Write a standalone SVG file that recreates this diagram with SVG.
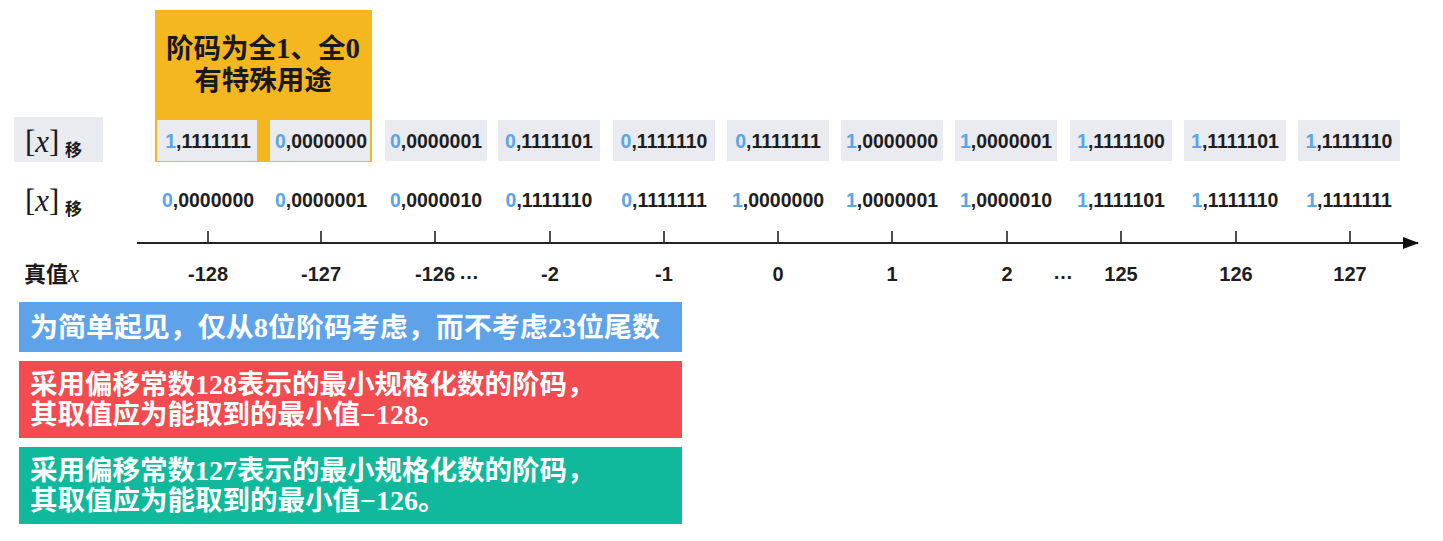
<svg xmlns="http://www.w3.org/2000/svg" width="1443" height="541" viewBox="0 0 1443 541">
<defs>
<style>
.cell{fill:#E9EBF1}
.num{font-family:"Liberation Sans",Arial,sans-serif;font-weight:bold;font-size:19.5px;fill:#1e1e1e;text-anchor:middle}
.num .b{fill:#5AA5E6}
.ax{font-family:"Liberation Sans",Arial,sans-serif;font-weight:bold;font-size:20px;fill:#1e1e1e;text-anchor:middle}
.cjk{font-family:"Noto Sans CJK SC","Noto Sans",sans-serif;font-weight:bold}
.serif{font-family:"Liberation Serif","Times New Roman",serif}
.note{font-family:"Noto Sans CJK SC",sans-serif;font-weight:bold;font-size:27.5px;fill:#fff}
.note .serif{font-size:28px;font-weight:bold}
.tick{stroke:#222;stroke-width:1.6}
</style>
<marker id="arr" markerWidth="16" markerHeight="12" refX="15" refY="6" orient="auto" markerUnits="userSpaceOnUse">
<path d="M0,0 L16,6 L0,12 Z" fill="#111"/>
</marker>
</defs>
<rect width="1443" height="541" fill="#fff"/>

<g id="special">
<rect x="155" y="10" width="217" height="152" fill="#F5B71F"/>
<text x="263" y="58" text-anchor="middle" class="cjk" font-size="27.5" fill="#1a1a1a">阶码为全<tspan class="serif" font-weight="bold" font-size="29">1</tspan>、全<tspan class="serif" font-weight="bold" font-size="29">0</tspan></text>
<text x="263" y="90" text-anchor="middle" class="cjk" font-size="27.5" fill="#1a1a1a">有特殊用途</text>
</g>

<g id="labels">
<rect x="14" y="117" width="89" height="45" fill="#E9EBF1"/>
<text x="25" y="152" class="serif" font-size="31" fill="#1a1a1a">[<tspan font-style="italic">x</tspan>]</text>
<text x="65" y="156" class="cjk" font-size="17" fill="#1a1a1a">移</text>
<text x="25" y="211" class="serif" font-size="31" fill="#1a1a1a">[<tspan font-style="italic">x</tspan>]</text>
<text x="65" y="215" class="cjk" font-size="17" fill="#1a1a1a">移</text>
<text x="24" y="282" class="cjk" font-size="22" fill="#1a1a1a">真值<tspan class="serif" font-style="italic" font-weight="normal" font-size="25">x</tspan></text>
</g>

<g id="row1">
<rect class="cell" x="157" y="120" width="100" height="41"/>
<rect class="cell" x="270" y="120" width="100" height="41"/>
<rect class="cell" x="385" y="120" width="102" height="41"/>
<rect class="cell" x="498" y="120" width="102" height="41"/>
<rect class="cell" x="613" y="120" width="102" height="41"/>
<rect class="cell" x="727" y="120" width="102" height="41"/>
<rect class="cell" x="841" y="120" width="102" height="41"/>
<rect class="cell" x="955" y="120" width="102" height="41"/>
<rect class="cell" x="1070" y="120" width="102" height="41"/>
<rect class="cell" x="1184" y="120" width="102" height="41"/>
<rect class="cell" x="1298" y="120" width="102" height="41"/>
<text class="num" x="208" y="148"><tspan class="b">1</tspan>,1111111</text>
<text class="num" x="321" y="148"><tspan class="b">0</tspan>,0000000</text>
<text class="num" x="436" y="148"><tspan class="b">0</tspan>,0000001</text>
<text class="num" x="549" y="148"><tspan class="b">0</tspan>,1111101</text>
<text class="num" x="664" y="148"><tspan class="b">0</tspan>,1111110</text>
<text class="num" x="778" y="148"><tspan class="b">0</tspan>,1111111</text>
<text class="num" x="892" y="148"><tspan class="b">1</tspan>,0000000</text>
<text class="num" x="1006" y="148"><tspan class="b">1</tspan>,0000001</text>
<text class="num" x="1121" y="148"><tspan class="b">1</tspan>,1111100</text>
<text class="num" x="1235" y="148"><tspan class="b">1</tspan>,1111101</text>
<text class="num" x="1349" y="148"><tspan class="b">1</tspan>,1111110</text>
</g>

<g id="row2">
<text class="num" x="208" y="207"><tspan class="b">0</tspan>,0000000</text>
<text class="num" x="321" y="207"><tspan class="b">0</tspan>,0000001</text>
<text class="num" x="436" y="207"><tspan class="b">0</tspan>,0000010</text>
<text class="num" x="549" y="207"><tspan class="b">0</tspan>,1111110</text>
<text class="num" x="664" y="207"><tspan class="b">0</tspan>,1111111</text>
<text class="num" x="778" y="207"><tspan class="b">1</tspan>,0000000</text>
<text class="num" x="892" y="207"><tspan class="b">1</tspan>,0000001</text>
<text class="num" x="1006" y="207"><tspan class="b">1</tspan>,0000010</text>
<text class="num" x="1121" y="207"><tspan class="b">1</tspan>,1111101</text>
<text class="num" x="1235" y="207"><tspan class="b">1</tspan>,1111110</text>
<text class="num" x="1349" y="207"><tspan class="b">1</tspan>,1111111</text>
</g>

<g id="connectors">
<line x1="137" y1="243" x2="1418" y2="243" stroke="#222" stroke-width="1.8" marker-end="url(#arr)"/>
<line class="tick" x1="208" y1="231" x2="208" y2="243"/>
<line class="tick" x1="321" y1="231" x2="321" y2="243"/>
<line class="tick" x1="435" y1="231" x2="435" y2="243"/>
<line class="tick" x1="550" y1="231" x2="550" y2="243"/>
<line class="tick" x1="664" y1="231" x2="664" y2="243"/>
<line class="tick" x1="778" y1="231" x2="778" y2="243"/>
<line class="tick" x1="892" y1="231" x2="892" y2="243"/>
<line class="tick" x1="1007" y1="231" x2="1007" y2="243"/>
<line class="tick" x1="1121" y1="231" x2="1121" y2="243"/>
<line class="tick" x1="1236" y1="231" x2="1236" y2="243"/>
<line class="tick" x1="1350" y1="231" x2="1350" y2="243"/>
</g>

<g id="axis-labels">
<text class="ax" x="208" y="281">-128</text>
<text class="ax" x="321" y="281">-127</text>
<text class="ax" x="435" y="281">-126</text>
<text class="ax" x="469" y="279" font-size="16">…</text>
<text class="ax" x="550" y="281">-2</text>
<text class="ax" x="664" y="281">-1</text>
<text class="ax" x="778" y="281">0</text>
<text class="ax" x="892" y="281">1</text>
<text class="ax" x="1007" y="281">2</text>
<text class="ax" x="1063" y="279" font-size="16">…</text>
<text class="ax" x="1121" y="281">125</text>
<text class="ax" x="1236" y="281">126</text>
<text class="ax" x="1350" y="281">127</text>
</g>

<g id="note1">
<rect x="19" y="302" width="663" height="50" fill="#5EA2EA"/>
<text class="note" x="30" y="337" textLength="630" lengthAdjust="spacingAndGlyphs">为简单起见，仅从<tspan class="serif">8</tspan>位阶码考虑，而不考虑<tspan class="serif">23</tspan>位尾数</text>
</g>

<g id="note2">
<rect x="19" y="361" width="663" height="77" fill="#F34B50"/>
<text class="note" x="30" y="394">采用偏移常数<tspan class="serif">128</tspan>表示的最小规格化数的阶码，</text>
<text class="note" x="30" y="424">其取值应为能取到的最小值<tspan class="serif">−128</tspan>。</text>
</g>

<g id="note3">
<rect x="19" y="447" width="663" height="77" fill="#10B99B"/>
<text class="note" x="30" y="480">采用偏移常数<tspan class="serif">127</tspan>表示的最小规格化数的阶码，</text>
<text class="note" x="30" y="510">其取值应为能取到的最小值<tspan class="serif">−126</tspan>。</text>
</g>
</svg>
